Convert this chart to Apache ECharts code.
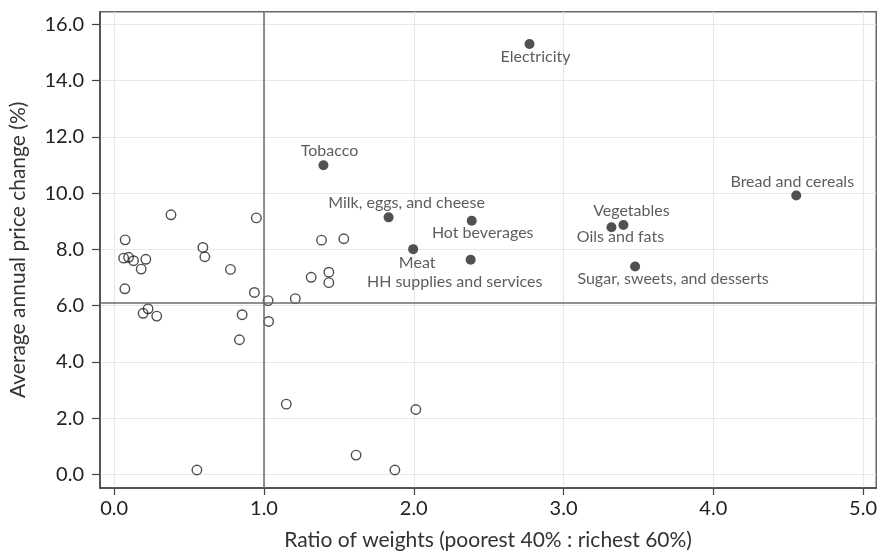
<!DOCTYPE html>
<html>
<head>
<meta charset="utf-8">
<script src="https://cdn.jsdelivr.net/npm/echarts@6/dist/echarts.min.js"></script>
<style>html,body{margin:0;padding:0;background:#fff}#c{width:880px;height:556px}</style>
</head>
<body>
<div id="c"></div>
<script>
// ---- data ----
const otherX = [0.379,0.949,0.073,0.592,0.605,0.063,0.096,0.129,0.211,0.180,0.776,0.071,0.936,1.027,1.209,0.226,0.193,0.284,0.854,1.031,0.836,1.149,1.615,0.552,2.014,1.874,1.384,1.533,1.315,1.433,1.433];
const otherY = [9.23,9.12,8.34,8.07,7.74,7.69,7.72,7.60,7.65,7.30,7.29,6.60,6.47,6.18,6.25,5.89,5.73,5.63,5.68,5.44,4.79,2.50,0.69,0.16,2.31,0.16,8.33,8.38,7.01,7.19,6.82];
const namedLabels = ["Electricity","Tobacco","Milk, eggs, and cheese","Hot beverages","Meat","HH supplies and services","Vegetables","Oils and fats","Sugar, sweets, and desserts","Bread and cereals"];
const namedX = [2.773,1.397,1.832,2.387,1.996,2.380,3.400,3.320,3.478,4.554];
const namedY = [15.30,10.99,9.14,9.02,8.01,7.63,8.87,8.79,7.39,9.92];
const xTicks = [0,1,2,3,4,5];
const yTicks = [0,2,4,6,8,10,12,14,16];
const refX = 1.0;
const refY = 6.1;
const xTitle = "Ratio of weights (poorest 40% : richest 60%)";
const yTitle = "Average annual price change (%)";

// ---- layout (label offsets relative to point, px) ----
const labelOffsets = {
  "Electricity":[6,13],
  "Tobacco":[6,-14],
  "Milk, eggs, and cheese":[18,-15],
  "Hot beverages":[11,12],
  "Meat":[4,14],
  "HH supplies and services":[-16,22],
  "Vegetables":[8,-14],
  "Oils and fats":[9,10],
  "Sugar, sweets, and desserts":[38,12],
  "Bread and cereals":[-4,-14]
};

const FONT = 'Lato';
const chart = echarts.init(document.getElementById('c'), null, {renderer:'canvas'});

const otherData = otherX.map((x,i)=>[x, otherY[i]]);
const namedData = namedX.map((x,i)=>({
  value:[x, namedY[i]],
  name:namedLabels[i],
  label:{offset:labelOffsets[namedLabels[i]]}
}));

chart.setOption({
  animation:false,
  backgroundColor:'#fff',
  grid:{left:99.3, right:2, top:11.7, bottom:66.7, show:true, borderColor:'#666', borderWidth:1.5, containLabel:false},
  xAxis:{
    type:'value', min:-0.095, max:5.088,
    name:xTitle, nameLocation:'middle', nameGap:42,
    nameTextStyle:{fontFamily:FONT, fontSize:21, color:'#333'},
    axisLine:{show:true, onZero:false, lineStyle:{color:'#444', width:1.5}},
    axisTick:{show:true, length:7, lineStyle:{color:'#444', width:1.2}, customValues:xTicks},
    axisLabel:{fontFamily:FONT, fontSize:20, color:'#222', margin:11, customValues:xTicks, formatter:v=>Number(v).toFixed(1)},
    splitLine:{show:true, lineStyle:{color:'#e8e8e8', width:1.2}}
  },
  yAxis:{
    type:'value', min:-0.48, max:16.45,
    name:yTitle, nameLocation:'middle', nameGap:71, nameRotate:90,
    nameTextStyle:{fontFamily:FONT, fontSize:21, color:'#333'},
    axisLine:{show:true, onZero:false, lineStyle:{color:'#444', width:1.5}},
    axisTick:{show:true, length:8, lineStyle:{color:'#444', width:1.2}, customValues:yTicks},
    axisLabel:{fontFamily:FONT, fontSize:20, color:'#222', margin:16, customValues:yTicks, formatter:v=>Number(v).toFixed(1)},
    splitLine:{show:true, lineStyle:{color:'#e8e8e8', width:1.2}}
  },
  series:[
    {
      type:'scatter', data:otherData, symbol:'circle', symbolSize:9.5,
      itemStyle:{color:'rgba(0,0,0,0)', borderColor:'#222', borderWidth:1.4},
      z:3,
      markLine:{
        silent:true, symbol:'none', label:{show:false},
        lineStyle:{color:'#6b6b6b', width:1.5, type:'solid'},
        data:[{xAxis:refX},{yAxis:refY}]
      }
    },
    {
      type:'scatter', data:namedData, symbol:'circle', symbolSize:10,
      itemStyle:{color:'#262626'},
      z:4,
      label:{show:true, position:'inside', formatter:p=>p.name, fontFamily:FONT, fontSize:16, color:'#333'}
    }
  ]
});
</script>
</body>
</html>
